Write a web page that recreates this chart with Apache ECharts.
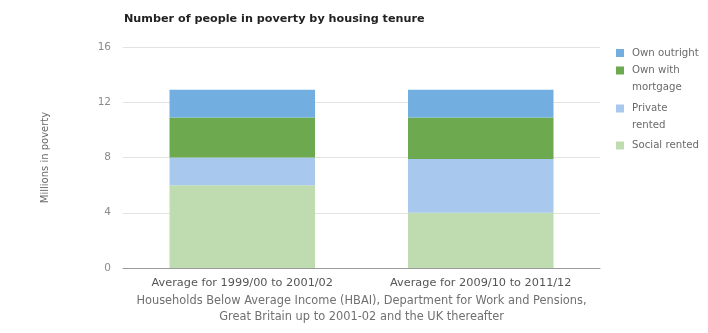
<!DOCTYPE html>
<html>
<head>
<meta charset="utf-8">
<title>Number of people in poverty by housing tenure</title>
<script src="https://cdn.jsdelivr.net/npm/echarts@6/dist/echarts.min.js"></script>
<style>
  html, body { margin: 0; padding: 0; background: #ffffff; }
  #chart { width: 708px; height: 333px; }
</style>
</head>
<body>
<div id="chart"></div>
<script>
// Periods compared
const categories = ['Average for 1999/00 to 2001/02', 'Average for 2009/10 to 2011/12'];

// People in poverty, millions, by tenure (stacked bottom to top)
const socialRented = [6.0, 4.0];
const privateRented = [2.0, 3.9];
const ownWithMortgage = [2.9, 3.0];
const ownOutright = [2.0, 2.0];

// Value axis ticks
const yTicks = [0, 4, 8, 12, 16];

// Legend entries, top to bottom, with their wrapped labels
const legendNames = ['Own outright', 'Own with mortgage', 'Private rented', 'Social rented'];
const legendLabels = ['Own outright', 'Own with\nmortgage', 'Private\nrented', 'Social rented'];

const colors = {
  'Own outright': '#72aee0',
  'Own with mortgage': '#6ca94f',
  'Private rented': '#a8c8ee',
  'Social rented': '#bfdcb0'
};

const font = 'DejaVu Sans';

const seriesDefs = [
  { name: 'Social rented', data: socialRented },
  { name: 'Private rented', data: privateRented },
  { name: 'Own with mortgage', data: ownWithMortgage },
  { name: 'Own outright', data: ownOutright }
];

// Legend drawn as a column of swatches with wrapping labels
const legendTops = [53, 70.5, 108.5, 145.5];
const legendGraphics = [];
legendNames.forEach(function (name, i) {
  legendGraphics.push({
    type: 'rect',
    left: 616,
    top: legendTops[i] - 4,
    shape: { width: 8, height: 8 },
    style: { fill: colors[name] }
  });
  legendGraphics.push({
    type: 'text',
    left: 632,
    top: legendTops[i] - 8.5,
    style: {
      text: legendLabels[i],
      font: '10.2px "' + font + '"',
      lineHeight: 17,
      fill: '#6a6a6a'
    }
  });
});

const chart = echarts.init(document.getElementById('chart'), null, { renderer: 'canvas' });

chart.setOption({
  animation: false,
  backgroundColor: '#ffffff',
  textStyle: { fontFamily: font },
  title: {
    text: 'Number of people in poverty by housing tenure',
    left: 124,
    top: 14,
    padding: 0,
    textStyle: { fontFamily: font, fontSize: 11.2, fontWeight: 'bold', color: '#222222' }
  },
  grid: { left: 123, right: 108, top: 47, bottom: 65, containLabel: false },
  xAxis: {
    type: 'category',
    data: categories,
    name: 'Households Below Average Income (HBAI), Department for Work and Pensions,\nGreat Britain up to 2001-02 and the UK thereafter',
    nameLocation: 'middle',
    nameGap: 25,
    nameMoveOverlap: false,
    nameTextStyle: { fontFamily: font, fontSize: 11.4, color: '#707070', lineHeight: 16, verticalAlign: 'top' },
    axisLine: { show: true, lineStyle: { color: '#9a9a9a', width: 1 } },
    axisTick: { show: false },
    axisLabel: { margin: 10, fontFamily: font, fontSize: 11.3, color: '#555555' }
  },
  yAxis: {
    type: 'value',
    min: yTicks[0],
    max: yTicks[yTicks.length - 1],
    interval: yTicks[1] - yTicks[0],
    name: 'Millions in poverty',
    nameLocation: 'middle',
    nameRotate: 90,
    nameGap: 73,
    nameMoveOverlap: false,
    nameTextStyle: { fontFamily: font, fontSize: 10, color: '#6a6a6a' },
    axisLine: { show: false },
    axisTick: { show: false },
    axisLabel: { margin: 12, fontFamily: font, fontSize: 10.5, color: '#8a8a8a' },
    splitLine: { lineStyle: { color: '#e3e3e3', width: 1 } }
  },
  graphic: legendGraphics,
  series: seriesDefs.map(function (s) {
    return {
      name: s.name,
      type: 'bar',
      stack: 'tenure',
      data: s.data,
      barWidth: '61%',
      itemStyle: { color: colors[s.name] },
      emphasis: { disabled: true }
    };
  })
});
</script>
</body>
</html>
